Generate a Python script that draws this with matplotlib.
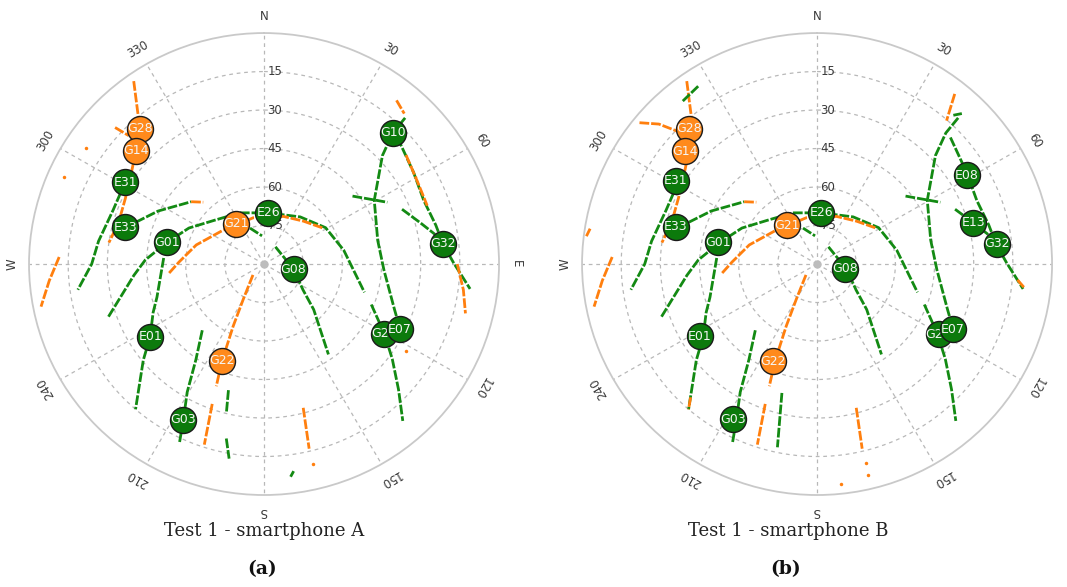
import numpy as np
import matplotlib.pyplot as plt

# colours of the two tracking states
TRACK_G = "#138a13"
TRACK_O = "#ff7f0e"
SAT_G = "#0c7a0c"
SAT_O = "#ff8a1c"
GRID = "#b8b8b8"
LABEL = "#3a3a3a"

az_ticks = [0, 30, 60, 90, 120, 150, 180, 210, 240, 270, 300, 330]
az_labels = ["N", "30", "60", "E", "120", "150", "S", "210", "240", "W", "300", "330"]
el_rings = [15, 30, 45, 60, 75]

# satellite tracks as (azimuth, elevation) in degrees
trk_nw = [(325, 3), (321, 13), (318, 19), (312, 24), (306, 27.5), (296, 31), (286, 32), (278, 30)]
trk_e31 = [(301, 28), (290, 28.5), (278, 26), (270, 24), (262, 18)]
trk_e33 = [(285, 35), (297, 44.5), (311, 53)]
trk_e33_tip = [(311, 53), (316, 56.5)]
trk_g01 = [(251, 27), (265, 40), (272, 44.5), (283, 52), (296, 58), (312, 64.5), (335, 68),
           (4, 70), (37, 67), (59, 62.5), (80, 59), (106, 50)]
trk_g21 = [(264.5, 53.5), (271.5, 57.5), (286, 63), (310, 69.5), (326, 71.5), (347, 71.5),
           (22, 70), (42, 67.5), (58, 63.5)]
trk_zen_in = [(339, 75), (356, 79)]
trk_g08 = [(33, 82), (100, 78.5), (124, 72), (133, 64), (145, 47)]
trk_west = [(272, 11.5), (265.5, 7.5), (259, 3)]
trk_g10 = [(43.5, 11.5), (44, 19), (47, 28), (59.5, 41), (78, 45.5), (93, 44), (109.5, 37), (116, 32)]
trk_cross = [(52, 47), (63, 37)]
trk_g27 = [(111, 46), (120.5, 36.5), (127, 28.5), (133.5, 19), (139, 9)]
trk_g32 = [(46, 19), (58, 22.5), (68, 24), (77, 22.5), (83.5, 21), (89.5, 17.5), (97, 10.5)]
trk_e13 = [(68, 33), (75, 28), (80, 23.5)]
trk_e01 = [(273.5, 51.5), (252.5, 47), (246, 43.5), (237, 38), (231, 30.5), (221, 15)]
trk_e01_tip = [(223, 19), (221, 15)]
trk_g03 = [(222.5, 55), (215, 44.5), (210.5, 32), (207, 22), (205, 13.5)]
trk_g22 = [(225, 84), (210, 74), (206, 63), (203, 48.5), (201, 39)]
trk_s1 = [(200, 32), (198, 16)]
trk_s2a = [(195.5, 39), (194, 30.5)]
trk_s2b = [(192, 20.5), (190, 13)]
trk_s2 = [(195, 38), (192, 17)]
trk_s3 = [(165, 32), (166.5, 16)]
trk_s4 = [(172, 8.5), (173, 6.5)]

# extra pieces seen only by one of the phones
trk_a_nw_bit = [(313, 12), (314, 18)]
trk_a_ne1 = [(38.5, 8.5), (42.5, 10.5)]
trk_a_ne2 = [(52, 21), (61, 23), (70, 23.5)]
trk_a_e = [(90, 16), (97.5, 13), (104, 10.5)]
dots_a_az = [303.6, 294, 122, 166.5]
dots_a_el = [8, 6.3, 26, 10]

trk_b_arc = [(309, 2.5), (312, 8.5), (314.5, 17)]
trk_b_nw_g = [(321, 8.3), (327, 7)]
trk_b_w = [(277, 1), (279, 2)]
trk_b_ne = [(38.5, 5.3), (41.6, 15.3)]
trk_b_ne_g = [(42, 12), (43.4, 9.3)]
trk_b_e = [(94.6, 13), (96.7, 10)]
dots_b_az = [166.5, 166.7, 174]
dots_b_el = [10.2, 5.5, 3.8]

tracks_a = [
    ("o", trk_nw), ("g", trk_e31), ("g", trk_e33), ("o", trk_e33_tip), ("g", trk_g01),
    ("o", trk_g21), ("g", trk_zen_in), ("g", trk_g08), ("o", trk_west), ("g", trk_g10),
    ("g", trk_cross), ("g", trk_g27), ("g", trk_g32), ("g", trk_e13), ("g", trk_e01),
    ("g", trk_g03), ("o", trk_g22), ("o", trk_s1), ("g", trk_s2a), ("g", trk_s2b),
    ("o", trk_s3), ("g", trk_s4), ("o", trk_a_nw_bit), ("o", trk_a_ne1),
    ("o", trk_a_ne2), ("o", trk_a_e),
]
tracks_b = [
    ("o", trk_nw), ("g", trk_e31), ("g", trk_e33), ("o", trk_e33_tip), ("g", trk_g01),
    ("o", trk_g21), ("g", trk_zen_in), ("g", trk_g08), ("o", trk_west), ("g", trk_g10),
    ("g", trk_cross), ("g", trk_g27), ("g", trk_g32), ("g", trk_e13), ("g", trk_e01),
    ("o", trk_e01_tip), ("g", trk_g03), ("o", trk_g22), ("o", trk_s1), ("g", trk_s2),
    ("o", trk_s3), ("o", trk_b_arc), ("g", trk_b_nw_g), ("o", trk_b_w), ("o", trk_b_ne),
    ("g", trk_b_ne_g), ("o", trk_b_e),
]

# satellite positions at the end of the session
sat_a = ["G28", "G14", "E31", "E33", "G01", "G21", "E26", "G08", "G10", "G32",
         "E01", "G22", "G03", "G27", "E07"]
sat_a_az = [318, 312, 301, 285, 283, 326, 4.5, 100, 44, 83.5, 237, 203, 207, 120.5, 116]
sat_a_el = [19, 24, 28, 35, 52, 71, 70, 78.5, 19, 21, 38, 49, 22, 36.5, 32]
sat_a_kind = ["o", "o", "g", "g", "g", "o", "g", "g", "g", "g", "g", "o", "g", "g", "g"]

sat_b = ["G28", "G14", "E31", "E33", "G01", "G21", "E26", "G08", "E08", "E13", "G32",
         "E01", "G22", "G03", "G27", "E07"]
sat_b_az = [317, 311, 301, 285, 282.5, 323, 4.5, 100, 59, 75, 83.5, 238, 204, 208, 120.5, 116]
sat_b_el = [18, 23, 27, 34, 51, 71, 70, 79, 23, 28, 20.5, 37, 48.5, 21.5, 36, 32]
sat_b_kind = ["o", "o", "g", "g", "g", "o", "g", "g", "g", "g", "g", "g", "o", "g", "g", "g"]


def skyplot(ax, tracks, dots_az, dots_el, names, az, el, kind):
    ax.set_theta_zero_location("N")
    ax.set_theta_direction(-1)
    ax.set_rlim(0, 90)
    ax.set_aspect("auto")
    ax.grid(False)
    ax.set_xticks([])
    ax.set_yticks([])
    ax.spines["polar"].set_color("#c9c9c9")
    ax.spines["polar"].set_linewidth(1.3)

    th = np.linspace(0, 2 * np.pi, 361)
    for e in el_rings:
        ax.plot(th, np.full_like(th, 90 - e), color=GRID, lw=0.9, ls=(0, (3, 3)), zorder=1)
        ax.annotate(str(e), xy=(0, 90 - e), xytext=(2.5, 0), textcoords="offset points",
                    ha="left", va="center", fontsize=8.5, color=LABEL, zorder=2)
    for a in az_ticks:
        t = np.radians(a)
        ax.plot([t, t], [0, 90], color=GRID, lw=0.9, ls=(0, (3, 3)), zorder=1)
    ax.plot([0], [0], "o", color="#bdbdbd", ms=5, zorder=2)
    for a, lab in zip(az_ticks, az_labels):
        ax.text(np.radians(a), 96.5, lab, rotation=-a, rotation_mode="anchor",
                ha="center", va="center", fontsize=8.5, color=LABEL, clip_on=False)

    for k, pts in tracks:
        a_deg = np.array([p[0] for p in pts], dtype=float)
        e_deg = np.array([p[1] for p in pts], dtype=float)
        t = np.unwrap(np.radians(a_deg))
        ax.plot(t, 90 - e_deg, color=TRACK_G if k == "g" else TRACK_O, lw=2.0,
                ls=(0, (3.5, 0.7)), zorder=3)
    ax.plot(np.radians(dots_az), 90 - np.array(dots_el), "o", ms=2.5, mec="none",
            ls="none", color=TRACK_O, zorder=3)

    for i, (n, a, e, k) in enumerate(zip(names, az, el, kind)):
        z = 5 + i * 0.01
        ax.scatter(np.radians(a), 90 - e, s=350, color=SAT_G if k == "g" else SAT_O,
                   edgecolors="#1a1a1a", linewidths=1.0, zorder=z)
        ax.text(np.radians(a), 90 - e, n, ha="center", va="center", fontsize=9,
                color="#f5f5f5", zorder=z + 0.005)


fig = plt.figure(figsize=(10.67, 5.87), dpi=100)
ax_a = fig.add_axes([0.0272, 0.1567, 0.4405, 0.787], projection="polar")
ax_b = fig.add_axes([0.5455, 0.1567, 0.4405, 0.787], projection="polar")

skyplot(ax_a, tracks_a, dots_a_az, dots_a_el, sat_a, sat_a_az, sat_a_el, sat_a_kind)
skyplot(ax_b, tracks_b, dots_b_az, dots_b_el, sat_b, sat_b_az, sat_b_el, sat_b_kind)

fig.text(264 / 1067, 1 - 531 / 587, "Test 1 - smartphone A", ha="center", va="center",
         family="DejaVu Serif", fontsize=13, color="#222222")
fig.text(788 / 1067, 1 - 531 / 587, "Test 1 - smartphone B", ha="center", va="center",
         family="DejaVu Serif", fontsize=13, color="#222222")
fig.text(262 / 1067, 1 - 569 / 587, "(a)", ha="center", va="center",
         family="DejaVu Serif", fontsize=13.5, weight="bold", color="#111111")
fig.text(786 / 1067, 1 - 569 / 587, "(b)", ha="center", va="center",
         family="DejaVu Serif", fontsize=13.5, weight="bold", color="#111111")

fig.savefig("out.png", dpi=100)
